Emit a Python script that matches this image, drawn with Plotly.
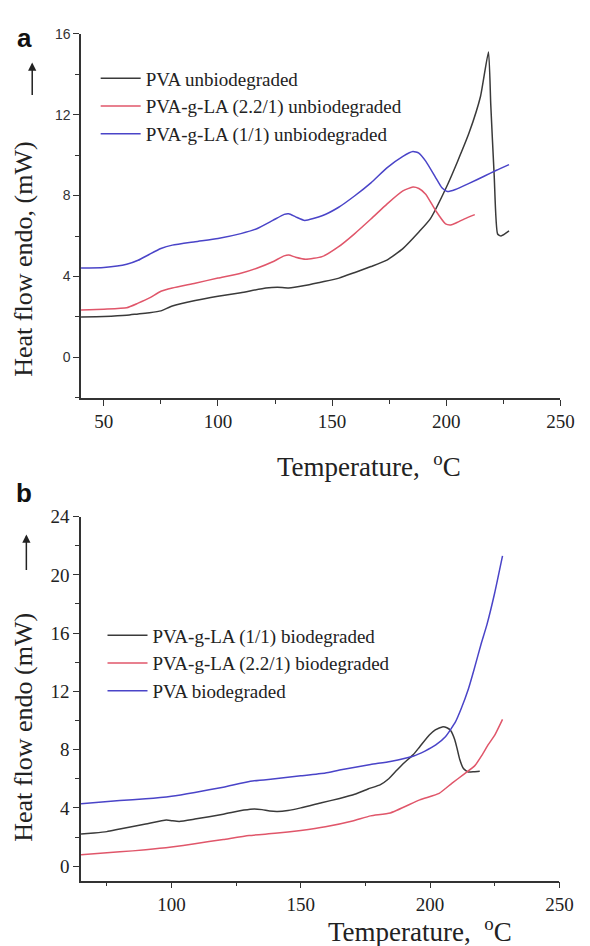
import plotly.graph_objects as go

# ---------------- Panel a (unbiodegraded) ----------------
a_pva_T = [40, 50, 60, 65, 70, 75, 80, 90, 100, 110, 121, 126, 131, 138, 145, 153, 160, 167, 174, 181,
           188, 193, 200, 205, 210, 215, 218.5, 219.5, 221, 222.5, 224, 227.5]
a_pva_v = [2.0, 2.02, 2.08, 2.15, 2.21, 2.3, 2.54, 2.81, 3.02, 3.2, 3.43, 3.47, 3.43, 3.55, 3.72, 3.92, 4.2,
           4.49, 4.81, 5.38, 6.2, 6.85, 8.4, 9.7, 11.1, 12.9, 15.1, 12.5, 9.0, 6.1, 6.0, 6.25]

a_r22_T = [40, 50, 60, 65, 70, 75, 80, 90, 100, 110, 117, 124, 129, 131, 134, 138.4, 145.6, 152.7, 159.8,
           167, 174, 181, 185.4, 188, 191, 195.4, 199.7, 202, 204, 208, 212.5]
a_r22_v = [2.34, 2.38, 2.45, 2.68, 2.94, 3.27, 3.43, 3.67, 3.92, 4.16, 4.41, 4.73, 5.02, 5.06, 4.95, 4.85,
           4.98, 5.46, 6.11, 6.84, 7.58, 8.23, 8.42, 8.35, 8.07, 7.25, 6.6, 6.55, 6.63, 6.85, 7.06]

a_r11_T = [40, 50, 60, 65, 70, 75, 80, 90, 100, 110, 117, 124, 129, 131, 134, 138, 145.6, 152.7, 159.8,
           167, 174, 181, 185.4, 188, 191, 195.4, 198, 200.5, 204, 210, 216.8, 222, 227.5]
a_r11_v = [4.42, 4.45, 4.6, 4.8, 5.1, 5.38, 5.55, 5.72, 5.88, 6.12, 6.36, 6.77, 7.07, 7.1, 6.95, 6.77, 7.0,
           7.41, 7.98, 8.63, 9.37, 9.94, 10.18, 10.1, 9.7, 8.88, 8.4, 8.2, 8.3, 8.6, 8.97, 9.25, 9.53]

# ---------------- Panel b (biodegraded) ----------------
b_r11_T = [65, 70, 75, 80, 90, 98, 100, 103, 109, 120, 128, 132, 135, 138, 141, 145, 150, 158, 165, 170.8,
           176, 180.8, 184, 187.2, 190, 193.4, 196, 199.7, 202, 204.7, 206.5, 208, 209.5, 210.4, 211.5,
           212.9, 214.8, 217, 219.2]
b_r11_v = [2.21, 2.28, 2.37, 2.55, 2.89, 3.16, 3.12, 3.07, 3.23, 3.57, 3.85, 3.93, 3.88, 3.78, 3.75, 3.82,
           4.0, 4.35, 4.65, 4.93, 5.3, 5.6, 6.0, 6.6, 7.1, 7.64, 8.2, 9.0, 9.35, 9.56, 9.5, 9.3, 8.7, 8.1,
           7.3, 6.7, 6.46, 6.48, 6.51]

b_r22_T = [65, 80, 90, 100, 109, 120, 130, 140, 150, 159.5, 170, 177, 184.6, 196, 203.5, 208.5, 213, 217.3,
           220, 222.4, 225, 228]
b_r22_v = [0.79, 0.98, 1.12, 1.31, 1.54, 1.83, 2.1, 2.25, 2.45, 2.7, 3.1, 3.45, 3.65, 4.55, 5.0, 5.7, 6.3,
           6.9, 7.6, 8.32, 9.0, 10.08]

b_pva_T = [65, 80, 90, 100, 109, 120, 130.5, 140, 150, 159.5, 165, 177, 184.6, 193.4, 198, 202.2, 206,
           209.8, 212, 214.8, 217, 219.8, 222, 224.9, 228]
b_pva_v = [4.29, 4.5, 4.62, 4.8, 5.06, 5.42, 5.83, 6.0, 6.2, 6.4, 6.6, 6.98, 7.19, 7.55, 7.9, 8.32, 8.9,
           9.9, 10.8, 12.16, 13.5, 15.3, 16.6, 18.7, 21.3]

names_a = ["PVA unbiodegraded", "PVA-g-LA (2.2/1) unbiodegraded", "PVA-g-LA (1/1) unbiodegraded"]
names_b = ["PVA-g-LA (1/1) biodegraded", "PVA-g-LA (2.2/1) biodegraded", "PVA biodegraded"]

BLACK = "#3a3a3a"
RED = "#e0566a"
BLUE = "#4a44c8"
SERIF = "Liberation Serif, Times New Roman, serif"
SANS = "Liberation Sans, Arial, sans-serif"
W, H = 590, 946

fig = go.Figure()
for T, v, n, c in [(a_pva_T, a_pva_v, names_a[0], BLACK),
                   (a_r22_T, a_r22_v, names_a[1], RED),
                   (a_r11_T, a_r11_v, names_a[2], BLUE)]:
    fig.add_trace(go.Scatter(x=T, y=v, name=n, mode="lines",
                             line=dict(color=c, width=1.5, shape="spline", smoothing=0.5),
                             xaxis="x", yaxis="y", legend="legend"))
for T, v, n, c in [(b_r11_T, b_r11_v, names_b[0], BLACK),
                   (b_r22_T, b_r22_v, names_b[1], RED),
                   (b_pva_T, b_pva_v, names_b[2], BLUE)]:
    fig.add_trace(go.Scatter(x=T, y=v, name=n, mode="lines",
                             line=dict(color=c, width=1.5, shape="spline", smoothing=0.5),
                             xaxis="x2", yaxis="y2", legend="legend2"))

def px_x(p):
    return p / W

def px_y(p):
    return 1 - p / H

axis_common = dict(showline=True, linecolor="#333333", linewidth=1.5, ticks="outside", ticklen=6,
                   tickwidth=1.3, tickcolor="#333333", showgrid=False, zeroline=False,
                   mirror=False)

fig.update_layout(
    width=W, height=H, margin=dict(l=0, r=0, t=0, b=0),
    paper_bgcolor="white", plot_bgcolor="white",
    xaxis=dict(domain=[px_x(83), px_x(574)], range=[40, 250], anchor="y", tick0=0, dtick=50,
               tickfont=dict(family=SERIF, size=19, color="#222222"),
               minor=dict(ticks="outside", ticklen=4, dtick=25, tick0=0, tickcolor="#333333"),
               **axis_common),
    yaxis=dict(domain=[px_y(392), px_y(24)], range=[-2, 16], anchor="x", tick0=0, dtick=4,
               tickfont=dict(family=SANS, size=14, color="#333333"),
               minor=dict(ticks="outside", ticklen=4, dtick=2, tick0=0, tickcolor="#333333"),
               **axis_common),
    xaxis2=dict(domain=[px_x(83), px_x(573)], range=[65, 250], anchor="y2", tick0=0, dtick=50,
                tickfont=dict(family=SERIF, size=19, color="#222222"),
                minor=dict(ticks="outside", ticklen=4, dtick=25, tick0=0, tickcolor="#333333"),
                **axis_common),
    yaxis2=dict(domain=[px_y(880), px_y(512)], range=[-1, 24], anchor="x2", tick0=0, dtick=4,
                tickfont=dict(family=SERIF, size=19, color="#222222"),
                minor=dict(ticks="outside", ticklen=4, dtick=2, tick0=0, tickcolor="#333333"),
                **axis_common),
    legend=dict(x=px_x(98), y=px_y(50), xanchor="left", yanchor="top", bgcolor="rgba(0,0,0,0)",
                font=dict(family=SERIF, size=19, color="#222222"), itemwidth=40, tracegroupgap=0),
    legend2=dict(x=px_x(105), y=px_y(613), xanchor="left", yanchor="top", bgcolor="rgba(0,0,0,0)",
                 font=dict(family=SERIF, size=19, color="#222222"), itemwidth=40, tracegroupgap=0),
    showlegend=True,
)

ann = [
    dict(text="<b>a</b>", x=px_x(25), y=px_y(28), font=dict(family=SANS, size=26, color="#111111")),
    dict(text="<b>b</b>", x=px_x(25), y=px_y(488), font=dict(family=SANS, size=26, color="#111111")),
    dict(text="Heat flow endo, (mW)", x=px_x(24), y=px_y(252), textangle=-90,
         font=dict(family=SERIF, size=26, color="#222222")),
    dict(text="Heat flow endo (mW)", x=px_x(24), y=px_y(725), textangle=-90,
         font=dict(family=SERIF, size=26, color="#222222")),
    dict(text="Temperature,  <sup>o</sup>C", x=px_x(378), y=px_y(460),
         font=dict(family=SERIF, size=27, color="#222222")),
    dict(text="Temperature,  <sup>o</sup>C", x=px_x(430), y=px_y(930),
         font=dict(family=SERIF, size=27, color="#222222")),
]
for a in ann:
    fig.add_annotation(xref="paper", yref="paper", showarrow=False, xanchor="center", yanchor="middle", **a)

# up arrows beside the y titles
for xa, y0, y1 in [(33, 87, 53), (27, 567, 530)]:
    fig.add_annotation(xref="paper", yref="paper", x=px_x(xa), y=px_y(y1), ax=0, ay=(y0 - y1),
                       text="", showarrow=True, arrowhead=2, arrowsize=1.1, arrowwidth=1.5,
                       arrowcolor="#222222")

fig.write_html("out.html")
